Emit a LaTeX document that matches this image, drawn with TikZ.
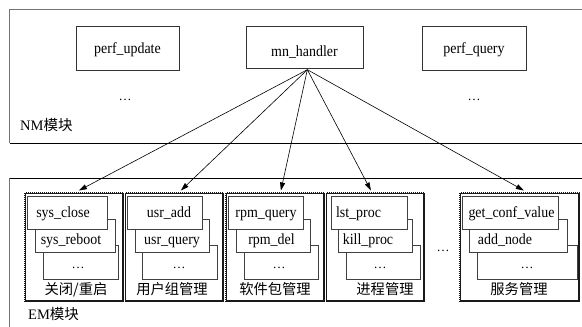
\documentclass[tikz,border=0pt]{standalone}
\usepackage{fontspec}
\setmainfont{Liberation Serif}
\newfontfamily\boxfont{Liberation Serif}[FakeStretch=0.9]
\newfontfamily\cjk{Noto Sans CJK SC}
\usetikzlibrary{arrows.meta}
\begin{document}
\begin{tikzpicture}[x=1pt,y=-1pt,
 topbox/.style={draw=black!80, line width=0.7pt, anchor=north west, inner sep=0pt},
 ibox/.style={draw=black!75, fill=white, line width=0.7pt, anchor=north west, inner sep=0pt},
 itext/.style={font=\boxfont\fontsize{15.5}{17}\selectfont, inner sep=0pt, anchor=base},
 dtext/.style={font=\fontsize{13}{15}\selectfont, inner sep=0pt, anchor=base},
 grp/.style={draw=black!90, line width=1.8pt, anchor=north west, inner sep=0pt},
 grptex/.style={draw=white, line width=0.4pt, dash pattern=on 0.6pt off 1.4pt},
 glabel/.style={font=\cjk\fontsize{14.3}{16}\selectfont, inner sep=0pt, anchor=base},
 modlabel/.style={font=\fontsize{14.5}{16}\selectfont, inner sep=0pt, anchor=base west},
 frame/.style={draw=black!55, line width=1.3pt},
 conn/.style={-{Triangle[length=8pt,width=5pt]}, line width=0.6pt}]
\useasboundingbox (0,0) rectangle (582,327);

% NM module frame
\draw[frame] (582,9.5) -- (9.5,9.5) -- (9.5,143);
\draw[line width=0.8pt] (9.5,143) -- (582,143);
\node[modlabel] (nml) at (20,130.5) {NM{\cjk 模块}};

% EM module frame
\draw[frame] (9.5,178) -- (9.5,327);
\draw[line width=0.8pt] (9.5,178) -- (582,178);
\node[modlabel] (eml) at (28,319.5) {EM{\cjk 模块}};

% top boxes
\node[topbox, minimum width=103pt, minimum height=44pt] (pu) at (76,26) {};
\node[itext] (put) at (127.5,53) {perf\_update};
\node[topbox, minimum width=117pt, minimum height=42pt] (mn) at (246,26) {};
\node[itext] (mnt) at (304.5,56.5) {mn\_handler};
\node[topbox, minimum width=104pt, minimum height=44pt] (pq) at (422,26) {};
\node[itext] (pqt) at (474,53) {perf\_query};
\node[dtext] (pud) at (125,100) {…};
\node[dtext] (pqd) at (474,100) {…};

% groups
\node[grp, minimum width=98pt, minimum height=108pt] (g1) at (24,192) {};
\node[grp, minimum width=98pt, minimum height=108pt] (g2) at (124,192) {};
\node[grp, minimum width=98pt, minimum height=108pt] (g3) at (225,192) {};
\node[grp, minimum width=98pt, minimum height=108pt] (g4) at (325,192) {};
\node[grp, minimum width=119pt, minimum height=108pt] (g5) at (459,192) {};
\foreach \g in {g1,g2,g3,g4,g5}{
  \draw[grptex] (\g.north west) rectangle (\g.south east);
}

% group 1
\node[ibox, minimum width=75pt, minimum height=34pt] (g1c) at (43,245) {};
\node[ibox, minimum width=80pt, minimum height=33pt] (g1b) at (35,219) {};
\node[ibox, minimum width=80pt, minimum height=33pt] (g1a) at (27,196) {};
\node[itext] (g1at) at (63,217) {sys\_close};
\node[itext] (g1bt) at (71,244) {sys\_reboot};
\node[dtext] (g1ct) at (78,268) {…};
\node[glabel] (g1l) at (76,294.5) {关闭/重启};

% group 2
\node[ibox, minimum width=75pt, minimum height=34pt] (g2c) at (142,245) {};
\node[ibox, minimum width=74pt, minimum height=33pt] (g2b) at (135,219) {};
\node[ibox, minimum width=75pt, minimum height=33pt] (g2a) at (127,196) {};
\node[itext] (g2at) at (169,217) {usr\_add};
\node[itext] (g2bt) at (172,244) {usr\_query};
\node[dtext] (g2ct) at (179,268) {…};
\node[glabel] (g2l) at (172,294.5) {用户组管理};

% group 3
\node[ibox, minimum width=74pt, minimum height=34pt] (g3c) at (244,245) {};
\node[ibox, minimum width=74pt, minimum height=33pt] (g3b) at (236,219) {};
\node[ibox, minimum width=75pt, minimum height=33pt] (g3a) at (228,196) {};
\node[itext] (g3at) at (266,217) {rpm\_query};
\node[itext] (g3bt) at (271.5,244) {rpm\_del};
\node[dtext] (g3ct) at (279,268) {…};
\node[glabel] (g3l) at (275,294.5) {软件包管理};

% group 4
\node[ibox, minimum width=74pt, minimum height=34pt] (g4c) at (346,245) {};
\node[ibox, minimum width=74pt, minimum height=33pt] (g4b) at (338,219) {};
\node[ibox, minimum width=76pt, minimum height=33pt] (g4a) at (331,196) {};
\node[itext] (g4at) at (358.5,217) {lst\_proc};
\node[itext] (g4bt) at (368,244) {kill\_proc};
\node[dtext] (g4ct) at (380,268) {…};
\node[glabel] (g4l) at (385,294.5) {进程管理};

% between
\node[dtext] (gdots) at (443,251) {…};

% group 5
\node[ibox, minimum width=100pt, minimum height=34pt] (g5c) at (477,245) {};
\node[ibox, minimum width=98pt, minimum height=33pt] (g5b) at (469,219) {};
\node[ibox, minimum width=96pt, minimum height=33pt] (g5a) at (462,196) {};
\node[itext] (g5at) at (511.5,217) {get\_conf\_value};
\node[itext] (g5bt) at (505,244) {add\_node};
\node[dtext] (g5ct) at (527,268) {…};
\node[glabel] (g5l) at (519,294.5) {服务管理};

% connectors
\coordinate (apex) at ([xshift=2.5pt,yshift=-1pt]mn.south);
\draw[conn] (apex) -- ([xshift=5pt,yshift=1.5pt]g1.north);
\draw[conn] (apex) -- ([xshift=7pt,yshift=1.5pt]g2.north);
\draw[conn] (apex) -- ([xshift=6pt,yshift=1.5pt]g3.north);
\draw[conn] (apex) -- ([xshift=-4pt,yshift=1.5pt]g4.north);
\draw[conn] (apex) -- ([xshift=4.5pt,yshift=1.5pt]g5.north);
\end{tikzpicture}
\end{document}
